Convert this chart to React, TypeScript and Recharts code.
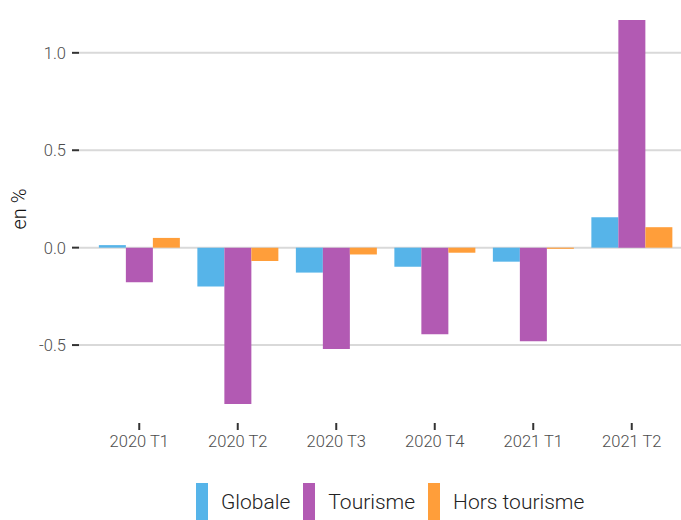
import { BarChart, Bar, XAxis, YAxis, CartesianGrid } from 'recharts';

const categories = ['2020 T1', '2020 T2', '2020 T3', '2020 T4', '2021 T1', '2021 T2'];
const globale = [0.013, -0.2, -0.128, -0.098, -0.072, 0.156];
const tourisme = [-0.178, -0.802, -0.52, -0.445, -0.48, 1.168];
const horsTourisme = [0.05, -0.068, -0.035, -0.026, -0.006, 0.105];
const yTicks = [-0.5, 0, 0.5, 1.0];

const SERIES = [
    { key: 'globale', name: 'Globale', color: '#56B4E9' },
    { key: 'tourisme', name: 'Tourisme', color: '#B25AB3' },
    { key: 'hors', name: 'Hors tourisme', color: '#FF9E3A' },
];

const data = categories.map((c, i) => ({
    cat: c,
    globale: globale[i],
    tourisme: tourisme[i],
    hors: horsTourisme[i],
}));

const FONT = 'Roboto, sans-serif';

const App = () => {
    return (
        <div style={{ position: 'absolute', left: 0, top: 0, width: 681, height: 520, background: '#fff', fontFamily: FONT }}>
            <BarChart
                width={681}
                height={470}
                data={data}
                margin={{ top: 1, right: 0, left: 0, bottom: 0 }}
                barCategoryGap="9%"
                barGap={0}
            >
                <CartesianGrid vertical={false} horizontalValues={yTicks} stroke="#d9d9d9" strokeWidth={2} />
                <XAxis
                    dataKey="cat"
                    height={47}
                    axisLine={false}
                    tickLine={{ stroke: '#333', strokeWidth: 2 }}
                    tickSize={7}
                    padding={{ left: 11, right: 0 }}
                    tick={{ fontSize: 16.5, fill: '#4d4d4d', fontFamily: FONT, fontWeight: 300 }}
                    tickMargin={5}
                />
                <YAxis
                    width={79}
                    domain={[-0.9, 1.266]}
                    ticks={yTicks}
                    allowDataOverflow
                    axisLine={false}
                    tickLine={{ stroke: '#333', strokeWidth: 2 }}
                    tickSize={7}
                    tickMargin={6}
                    tickFormatter={(v: number) => v.toFixed(1)}
                    tick={{ fontSize: 16.5, fill: '#4d4d4d', fontFamily: FONT, fontWeight: 300 }}
                />
                {SERIES.map((s) => (
                    <Bar key={s.key} dataKey={s.key} name={s.name} fill={s.color} isAnimationActive={false} />
                ))}
            </BarChart>
            <div
                style={{
                    position: 'absolute',
                    left: 19,
                    top: 209,
                    transform: 'translate(-50%, -50%) rotate(-90deg)',
                    fontSize: 20,
                    fontWeight: 300,
                    color: '#111',
                    whiteSpace: 'nowrap',
                }}
            >
                en %
            </div>
            <div
                style={{
                    position: 'absolute',
                    left: 196,
                    top: 483,
                    display: 'flex',
                }}
            >
                {SERIES.map((s) => (
                    <div key={s.key} style={{ display: 'flex', alignItems: 'center', marginRight: 13 }}>
                        <span style={{ display: 'inline-block', width: 12, height: 37, background: s.color, marginRight: 13 }} />
                        <span style={{ fontSize: 21, fontWeight: 300, color: '#222' }}>{s.name}</span>
                    </div>
                ))}
            </div>
        </div>
    );
};

export default App;
